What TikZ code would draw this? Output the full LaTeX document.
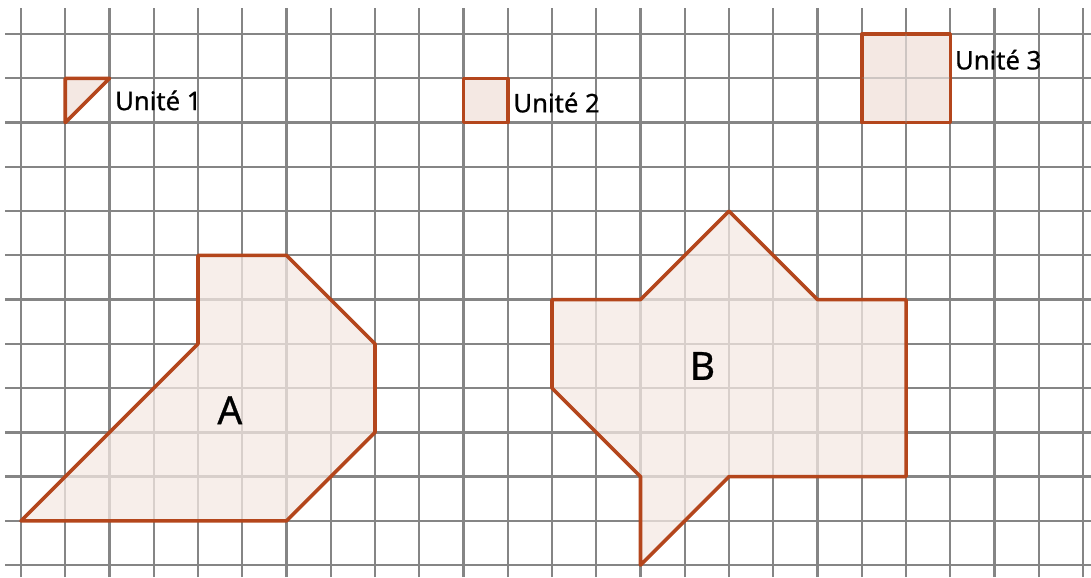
\documentclass[tikz,border=0pt]{standalone}
\usepackage{fontspec}
\setmainfont{Noto Sans}
\newfontfamily\labelfont{Noto Sans}[FakeBold=0.7]
\usepackage{tikz}

\definecolor{gridgray}{HTML}{858585}
\definecolor{shapeedge}{HTML}{B4461C}
\definecolor{shapefill}{HTML}{F4E8E3}

\begin{document}
\begin{tikzpicture}[
  gridline/.style={gridgray, line width=1.5pt},
  surface/.style={draw=shapeedge, fill=shapefill, line width=2.3pt, line join=round},
  unitlabel/.style={anchor=west, inner sep=0pt, font=\labelfont\fontsize{16.5}{18}\selectfont},
  shapelabel/.style={inner sep=0pt, font=\labelfont\fontsize{25}{28}\selectfont}
]
\useasboundingbox (-0.4746,-0.271) rectangle (24.18,12.77);

% grid
\foreach \y in {0,...,12}
  \draw[gridline] (-0.36,\y) -- (24.18,\y);
\foreach \x in {0,...,24}
  \draw[gridline] (\x,-0.271) -- (\x,12.59);

% units
\draw[surface] (1,11) -- (2,11) -- (1,10) -- cycle;
\draw[surface] (10,10) rectangle (11,11);
\draw[surface] (19,10) rectangle (21,12);
\draw[gridline, opacity=0.35] (20,10) -- (20,12) (19,11) -- (21,11);

\node[unitlabel] (unit1) at (2.12,10.5) {Unité 1};
\node[unitlabel] (unit2) at (11.12,10.45) {Unité 2};
\node[unitlabel] (unit3) at (21.1,11.42) {Unité 3};

% figure A
\draw[surface, fill opacity=0.75] (0,1) -- (6,1) -- (8,3) -- (8,5) -- (6,7) -- (4,7) -- (4,5) -- cycle;
\node[shapelabel] (labA) at (4.72,3.5) {A};

% figure B
\draw[surface, fill opacity=0.75] (12,6) -- (14,6) -- (16,8) -- (18,6) -- (20,6) -- (20,2)
  -- (16,2) -- (14,0) -- (14,2) -- (12,4) -- cycle;
\node[shapelabel] (labB) at (15.4,4.5) {B};

\end{tikzpicture}
\end{document}
